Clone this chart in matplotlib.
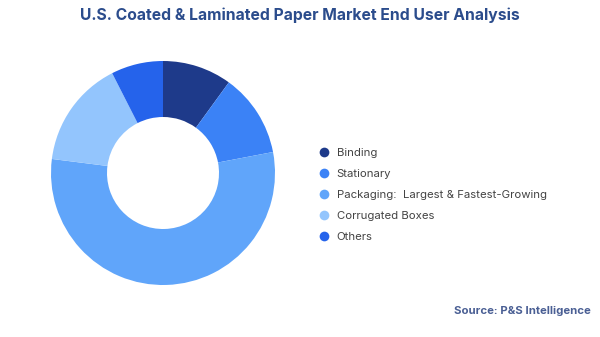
import matplotlib.pyplot as plt
from matplotlib.lines import Line2D

plt.rcParams['font.family'] = ['Inter', 'DejaVu Sans']

segments = ['Binding', 'Stationary', 'Packaging', 'Corrugated Boxes', 'Others']
legend_labels = ['Binding', 'Stationary', 'Packaging:  Largest & Fastest-Growing',
                 'Corrugated Boxes', 'Others']
shares = [10, 12, 55, 15.5, 7.5]
colors = ['#1e3a8a', '#3b82f6', '#60a5fa', '#93c5fd', '#2563eb']

W, H = 600, 337
fig = plt.figure(figsize=(W / 100, H / 100), dpi=100)

# donut centred at (163, 173) px with outer radius 112 px
cx, cy, r = 163, 173, 112
ax = fig.add_axes([(cx - r) / W, (H - cy - r) / H, 2 * r / W, 2 * r / H])
ax.pie(shares, colors=colors, startangle=90, counterclock=False,
       wedgeprops=dict(width=0.5, edgecolor='none'))
ax.set_xlim(-1, 1)
ax.set_ylim(-1, 1)

handles = [Line2D([], [], marker='o', linestyle='none', markersize=7,
                  markerfacecolor=c, markeredgecolor='none') for c in colors]
fig.legend(handles, legend_labels, loc='center left',
           bbox_to_anchor=(307 / W, 1 - 195 / H), frameon=False,
           fontsize=8.2, labelcolor='#444444', labelspacing=0.96,
           handletextpad=0.6, handlelength=1.1)

fig.text(0.5, 1 - 15 / H, 'U.S. Coated & Laminated Paper Market End User Analysis',
         ha='center', va='center', fontsize=11.3, fontweight='bold', color='#2b4c8c')
fig.text(591 / W, 1 - 311 / H, 'Source: P&S Intelligence', ha='right', va='center',
         fontsize=8.2, fontweight='bold', color='#4a5f94')

fig.savefig('out.png', dpi=100, facecolor='white')
